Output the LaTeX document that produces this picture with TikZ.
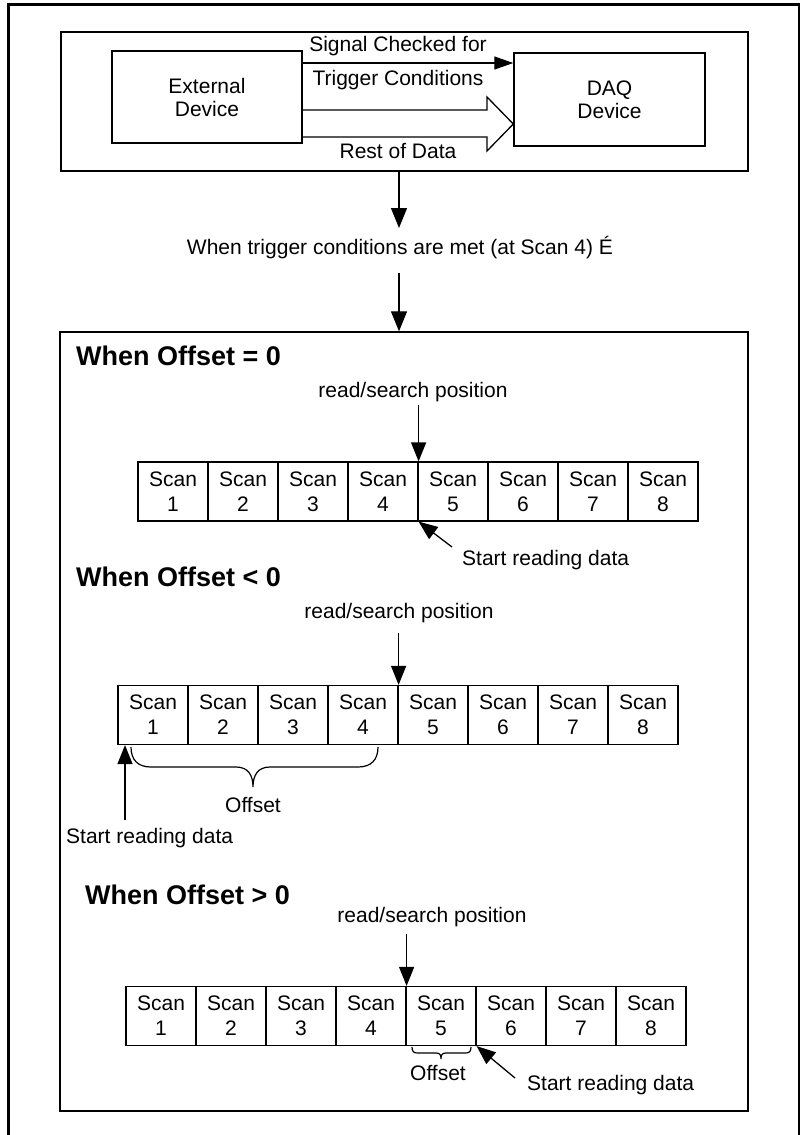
\documentclass[tikz,border=0pt]{standalone}
\usepackage{fontspec}
\setmainfont{Liberation Sans}
\usetikzlibrary{arrows.meta}
\begin{document}
\begin{tikzpicture}[x=1pt,y=-1pt,
  every node/.style={font=\fontsize{21}{23}\selectfont, inner sep=0pt},
  box/.style={draw, line width=1.4pt},
  cell/.style={draw, line width=1.2pt, minimum width=70pt, minimum height=59pt, align=center, font=\fontsize{21}{25}\selectfont},
  head/.style={font=\bfseries\fontsize{27}{30}\selectfont, anchor=west},
  arr/.style={line width=1.3pt, -{Triangle[length=19pt,width=15pt]}},
  brace/.style={line width=1.2pt},
]
\useasboundingbox (0,0) rectangle (800,1135);
% outer frame
\draw[line width=3pt] (8,1140) -- (8,4) -- (799,4) -- (799,1140);

% top section
\node[box, minimum width=687pt, minimum height=139pt] (top) at (404.5,101.5) {};
\node[box, minimum width=190pt, minimum height=92pt, align=center] (ext) at (207,97) {External\\Device};
\node[box, minimum width=191pt, minimum height=93pt, align=center] (daq) at (609.5,99.5) {DAQ\\Device};
\node (sig) at (398,46) {Signal Checked for};
\node (trc) at (398,80) {Trigger Conditions};
\node (rest) at (398,151) {Rest of Data};
\draw[line width=1.3pt, -{Triangle[length=19pt,width=13pt]}] (ext.east |- 0,63) -- (daq.west |- 0,63);
\draw[line width=1.3pt] (ext.east |- 0,110) -- (487,110) -- (487,97) -- (daq.west |- 0,124) -- (487,151) -- (487,137) -- (ext.east |- 0,137);

\node (trig) at (400,248) {When trigger conditions are met (at Scan 4) É};
\coordinate (a1) at (399,228);
\coordinate (a2) at (399,273);
\draw[arr, -{Triangle[length=20pt,width=16pt]}] (top.south -| a1) -- (a1);

% bottom box
\node[box, minimum width=688pt, minimum height=779pt] (bot) at (404,721.5) {};
\draw[arr, -{Triangle[length=20pt,width=16pt]}] (a2) -- (bot.north -| a2);

% ---- Offset = 0
\node[head] (h0) at (76,356) {When Offset = 0};
\foreach \i in {1,...,8} {
  \node[cell] (r0c\i) at ({103+70*\i},491.5) {Scan\\\i};
}
\node (rs0) at (413,392) {read/search position};
\draw[arr] (r0c4.north east |- 0,405) -- (r0c4.north east);
\node[anchor=west] (sr0) at (462,560) {Start reading data};
\coordinate (t0) at (452,547);
\draw[arr] (t0) -- (r0c4.south east);

% ---- Offset < 0
\node[head] (h1) at (76,577) {When Offset < 0};
\foreach \i in {1,...,8} {
  \node[cell] (r1c\i) at ({83+70*\i},715) {Scan\\\i};
}
\node (rs1) at (399,613) {read/search position};
\draw[arr] (r1c4.north east |- 0,633) -- (r1c4.north east);
\draw[brace] (131,747) .. controls (131,760) and (138,767) .. (151,767) -- (236,767)
  .. controls (248,767) and (253,775) .. (253,787)
  .. controls (253,775) and (258,767) .. (270,767) -- (358,767)
  .. controls (371,767) and (378,760) .. (378,747);
\node (of1) at (253,805) {Offset};
\node[anchor=west] (sr1) at (66,838) {Start reading data};
\coordinate (t1) at (125,820);
\draw[arr] (t1) -- (t1 |- r1c1.south);

% ---- Offset > 0
\node[head] (h2) at (85,895) {When Offset > 0};
\foreach \i in {1,...,8} {
  \node[cell] (r2c\i) at ({91+70*\i},1016) {Scan\\\i};
}
\node (rs2) at (432,917) {read/search position};
\draw[arr] (r2c4.north east |- 0,934) -- (r2c4.north east);
\draw[brace] (412,1047) .. controls (412,1052) and (414,1053) .. (418,1053) -- (436,1053)
  .. controls (440,1053) and (441,1055) .. (441,1059)
  .. controls (441,1055) and (442,1053) .. (446,1053) -- (465,1053)
  .. controls (469,1053) and (471,1052) .. (471,1047);
\node (of2) at (438,1073) {Offset};
\node[anchor=west] (sr2) at (527,1085) {Start reading data};
\coordinate (t2) at (515,1078);
\draw[arr] (t2) -- (r2c5.south east);
\end{tikzpicture}
\end{document}
